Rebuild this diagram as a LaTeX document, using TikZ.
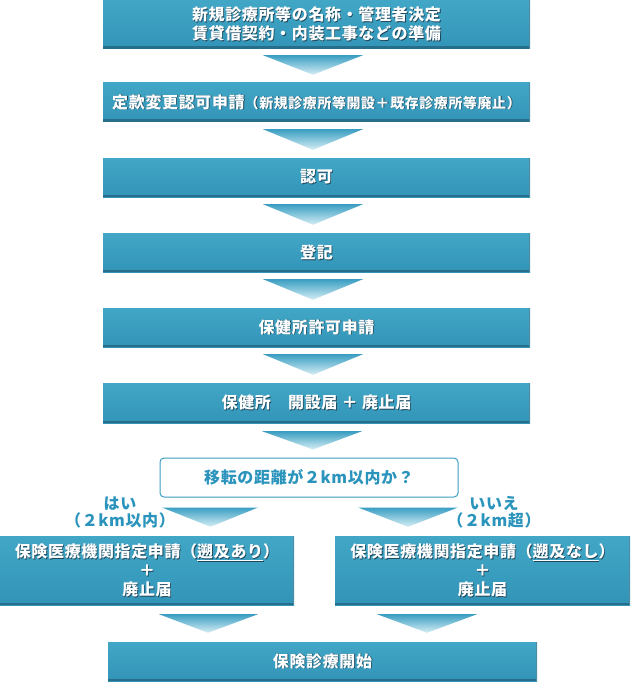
\documentclass[tikz,border=0pt]{standalone}
\usepackage{fontspec}
\setmainfont{Noto Sans CJK JP}[LetterSpace=4]
\usetikzlibrary{calc}
\usetikzlibrary{positioning}
\definecolor{boxTop}{RGB}{66,166,198}
\definecolor{boxBot}{RGB}{50,149,184}
\definecolor{boxEdge}{RGB}{38,110,138}
\definecolor{triTop}{RGB}{58,158,194}
\definecolor{triBot}{RGB}{214,238,245}
\definecolor{qBlue}{RGB}{42,148,188}
\definecolor{txtShadow}{RGB}{30,70,90}
\newcommand{\shd}[1]{\leavevmode\rlap{\kern0.8pt\raisebox{-0.8pt}{\color{txtShadow}#1}}#1}
\newcommand{\bigtxt}{\fontsize{16}{19}\selectfont\bfseries}
\newcommand{\smalltxt}{\fontsize{14}{17}\selectfont\bfseries}

\begin{document}
\begin{tikzpicture}[x=1pt,y=-1pt,
    box/.style={rectangle, inner sep=0pt, top color=boxTop, bottom color=boxBot,
      text=white, align=center, font=\bigtxt,
      path picture={
        \fill[boxEdge] ([yshift=2.5pt]path picture bounding box.south west) rectangle (path picture bounding box.south east);
        \fill[boxEdge!80] ([xshift=-1.5pt]path picture bounding box.north east) rectangle (path picture bounding box.south east);}},
    tri/.style={top color=triTop, bottom color=triBot},
    ask/.style={draw=triTop, line width=1pt, rounded corners=4pt, fill=white,
      text=qBlue, font=\bigtxt, inner sep=0pt},
    lbl/.style={text=qBlue, font=\fontsize{16}{17}\selectfont\bfseries, align=center, inner sep=0pt}
    ]
\useasboundingbox (0,0) rectangle (630,682);

\node[box, minimum width=427pt, minimum height=49pt] (plan) at (316.5,24.5)
  {\shd{新規診療所等の名称・管理者決定}\\\shd{賃貸借契約・内装工事などの準備}};
\node[box, minimum width=427pt, minimum height=39pt] (teikan) at (316.5,102.5)
  {\shd{定款変更認可申請{\smalltxt（新規診療所等開設＋既存診療所等廃止）}}};
\node[box, minimum width=427pt, minimum height=39pt] (ninka) at (316.5,177.5) {\shd{認可}};
\node[box, minimum width=427pt, minimum height=39pt] (touki) at (316.5,252.5) {\shd{登記}};
\node[box, minimum width=427pt, minimum height=39pt] (kyoka) at (316.5,327.5) {\shd{保健所許可申請}};
\node[box, minimum width=427pt, minimum height=40pt] (kaisetsu) at (316.5,403) {\shd{保健所　開設届 ＋ 廃止届}};

\node[ask, minimum width=298pt, minimum height=39pt] (kyori) at (309,477.5) {移転の距離が２km以内か？};
\node[lbl] (hai) at (120,512) {はい\\（２km以内）};
\node[lbl] (iie) at (494,512) {いいえ\\（２km超）};

\node[box, minimum width=294pt, minimum height=69pt] (ari) at (147,570.5)
  {\shd{保険医療機関指定申請（\underline{遡及あり}）}\\\shd{＋}\\\shd{廃止届}};
\node[box, minimum width=295pt, minimum height=69pt] (nashi) at (482.5,570.5)
  {\shd{保険医療機関指定申請（\underline{遡及なし}）}\\\shd{＋}\\\shd{廃止届}};
\node[box, minimum width=429pt, minimum height=39pt] (kaishi) at (322.5,661.5) {\shd{保険診療開始}};

\shade[tri] ($(plan.south)+(-53.5,6)$) -- ($(plan.south)+(46.5,6)$) -- ($(teikan.north)+(-3.5,-8)$) -- cycle;
\shade[tri] ($(teikan.south)+(-53.5,7)$) -- ($(teikan.south)+(46.5,7)$) -- ($(ninka.north)+(-3.5,-8)$) -- cycle;
\shade[tri] ($(ninka.south)+(-53.5,7)$) -- ($(ninka.south)+(46.5,7)$) -- ($(touki.north)+(-3.5,-8)$) -- cycle;
\shade[tri] ($(touki.south)+(-53.5,7)$) -- ($(touki.south)+(46.5,7)$) -- ($(kyoka.north)+(-3.5,-8)$) -- cycle;
\shade[tri] ($(kyoka.south)+(-53.5,7)$) -- ($(kyoka.south)+(46.5,7)$) -- ($(kaisetsu.north)+(-3.5,-8)$) -- cycle;
\shade[tri] ($(kaisetsu.south)+(-54.5,8)$) -- ($(kaisetsu.south)+(45.5,8)$) -- ($(kyori.north)+(4,-8)$) -- cycle;

\shade[tri] ($(kyori.south)+(-147,10)$) -- ($(kyori.south)+(-51,10)$) -- ($(ari.north)+(63.5,-9)$) -- cycle;
\shade[tri] ($(kyori.south)+(49,10)$) -- ($(kyori.south)+(149,10)$) -- ($(nashi.north)+(-74.5,-9)$) -- cycle;

\shade[tri] ($(ari.south)+(12,9)$) -- ($(ari.south)+(111,9)$) -- ($(kaishi.north)+(-114.5,-9)$) -- cycle;
\shade[tri] ($(nashi.south)+(-105.5,9)$) -- ($(nashi.south)+(-5.5,9)$) -- ($(kaishi.north)+(104.5,-9)$) -- cycle;
\end{tikzpicture}
\end{document}
